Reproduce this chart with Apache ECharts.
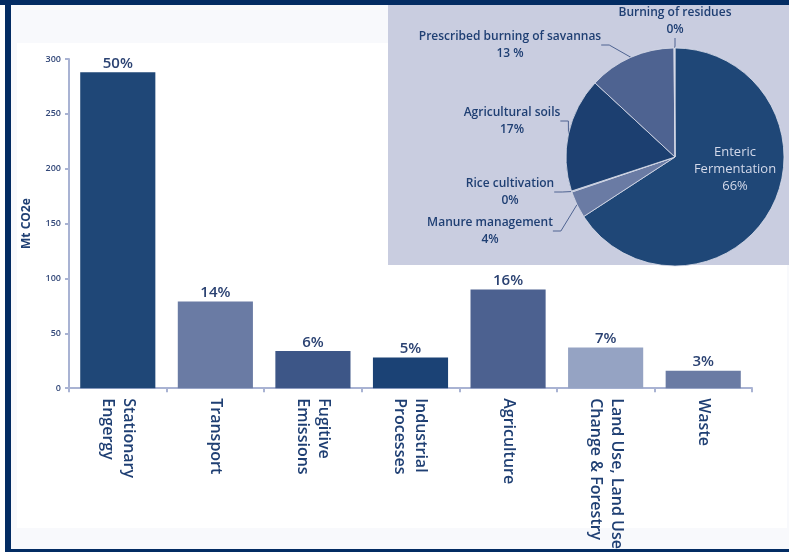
<!DOCTYPE html>
<html>
<head>
<meta charset="utf-8">
<script src="https://cdn.jsdelivr.net/npm/echarts@6/dist/echarts.min.js"></script>
<style>
  html, body { margin: 0; padding: 0; background: #ffffff; }
  #chart { width: 789px; height: 552px; }
</style>
</head>
<body>
<div id="chart"></div>
<script>
// sector emissions (Mt CO2e) and their share labels
var sectors = ['Stationary\nEngergy', 'Transport', 'Fugitive\nEmissions', 'Industrial\nProcesses',
  'Agriculture', 'Land Use, Land Use\nChange & Forestry', 'Waste'];
var emissions = [288, 79, 34, 28, 90, 37, 16];
var sectorShares = ['50%', '14%', '6%', '5%', '16%', '7%', '3%'];
var barColors = ['#1f4777', '#6a7ba4', '#3d5687', '#1b4275', '#4c6190', '#95a3c3', '#6a7ba4'];

// agriculture breakdown (pie)
var agriNames = ['Enteric\nFermentation', 'Manure management', 'Rice cultivation',
  'Agricultural soils', 'Prescribed burning of savannas', 'Burning of residues'];
var agriValues = [66, 4, 0.15, 17, 13, 0.15];
var agriLabels = ['66%', '4%', '0%', '17%', '13 %', '0%'];
var agriColors = ['#1f4777', '#6a7ba4', '#8090b5', '#1c3f70', '#4e6391', '#c9cde0'];

var yTicks = [0, 50, 100, 150, 200, 250, 300];

// where each pie label sits (centre of text block)
var pieLabelPos = [[735, 169], [490, 231], [510, 192], [512, 121], [510, 45], [675, 21]];

var navy = '#1f3f73';
var font = 'Open Sans';

var myChart = echarts.init(document.getElementById('chart'));

var pieData = [];
for (var i = 0; i < agriNames.length; i++) {
  var d = {
    name: agriNames[i],
    value: agriValues[i],
    itemStyle: { color: agriColors[i] }
  };
  if (i == 0) {
    d.label = { color: '#d3d9ea', fontWeight: 'normal', fontSize: 13, lineHeight: 17 };
    d.labelLine = { show: false };
  }
  pieData.push(d);
}

var option = {
  backgroundColor: '#ffffff',
  animation: false,
  graphic: [
    { type: 'rect', z: -10, shape: { x: 11, y: 0, width: 778, height: 552 }, style: { fill: '#f8f9fc' } },
    { type: 'rect', z: -9, shape: { x: 17, y: 43, width: 770, height: 485 }, style: { fill: '#ffffff' } },
    { type: 'rect', z: -8, shape: { x: 388, y: 5, width: 401, height: 260 }, style: { fill: '#c9cde0' } },
    { type: 'rect', z: 10, shape: { x: 0, y: 0, width: 789, height: 5 }, style: { fill: '#032c63' } },
    { type: 'rect', z: 10, shape: { x: 5, y: 0, width: 6, height: 552 }, style: { fill: '#032c63' } },
    { type: 'rect', z: 10, shape: { x: 5, y: 549, width: 784, height: 3 }, style: { fill: '#032c63' } }
  ],
  grid: { left: 69, right: 37, top: 59, bottom: 163 },
  xAxis: {
    type: 'category',
    data: sectors,
    axisLine: { lineStyle: { color: '#a9b3d3', width: 2 } },
    axisTick: { show: true, length: 4, lineStyle: { color: '#a9b3d3', width: 2 } },
    axisLabel: {
      rotate: -90,
      margin: 10,
      fontFamily: font,
      fontSize: 16,
      fontWeight: 600,
      lineHeight: 21,
      color: navy,
      interval: 0
    }
  },
  yAxis: {
    type: 'value',
    min: 0,
    max: 300,
    interval: 50,
    name: 'Mt CO2e',
    nameLocation: 'middle',
    nameGap: 36,
    nameRotate: 90,
    nameTextStyle: { fontFamily: font, fontSize: 12, fontWeight: 'bold', color: navy },
    splitLine: { show: false },
    axisLine: { show: true, lineStyle: { color: '#a9b3d3', width: 2 } },
    axisTick: { show: true, length: 4, lineStyle: { color: '#a9b3d3', width: 2 } },
    axisLabel: {
      fontFamily: font, fontSize: 9, fontWeight: 600, color: '#34497a', margin: 8,
      formatter: function (v) { return yTicks.indexOf(v) >= 0 ? v : ''; }
    }
  },
  series: [
    {
      type: 'bar',
      barCategoryGap: '23%',
      data: emissions.map(function (v, i) {
        return { value: v, itemStyle: { color: barColors[i] } };
      }),
      label: {
        show: true,
        position: 'top',
        distance: 1,
        fontFamily: font,
        fontSize: 15,
        fontWeight: 600,
        color: '#2b4272',
        formatter: function (p) { return sectorShares[p.dataIndex]; }
      }
    },
    {
      type: 'pie',
      center: [675, 157],
      radius: 109,
      startAngle: 90,
      clockwise: true,
      avoidLabelOverlap: false,
      itemStyle: { borderColor: '#d9ddea', borderWidth: 0.8 },
      data: pieData,
      label: {
        show: true,
        fontFamily: font,
        fontSize: 12,
        fontWeight: 600,
        lineHeight: 17,
        color: navy,
        align: 'center',
        formatter: function (p) { return p.name + '\n' + agriLabels[p.dataIndex]; }
      },
      labelLine: { show: true, length: 8, length2: 8, lineStyle: { color: '#4e6391', width: 1 } },
      labelLayout: function (params) {
        var pos = pieLabelPos[params.dataIndex];
        return { x: pos[0], y: pos[1], align: 'center', verticalAlign: 'middle' };
      }
    }
  ]
};

myChart.setOption(option);
</script>
</body>
</html>
